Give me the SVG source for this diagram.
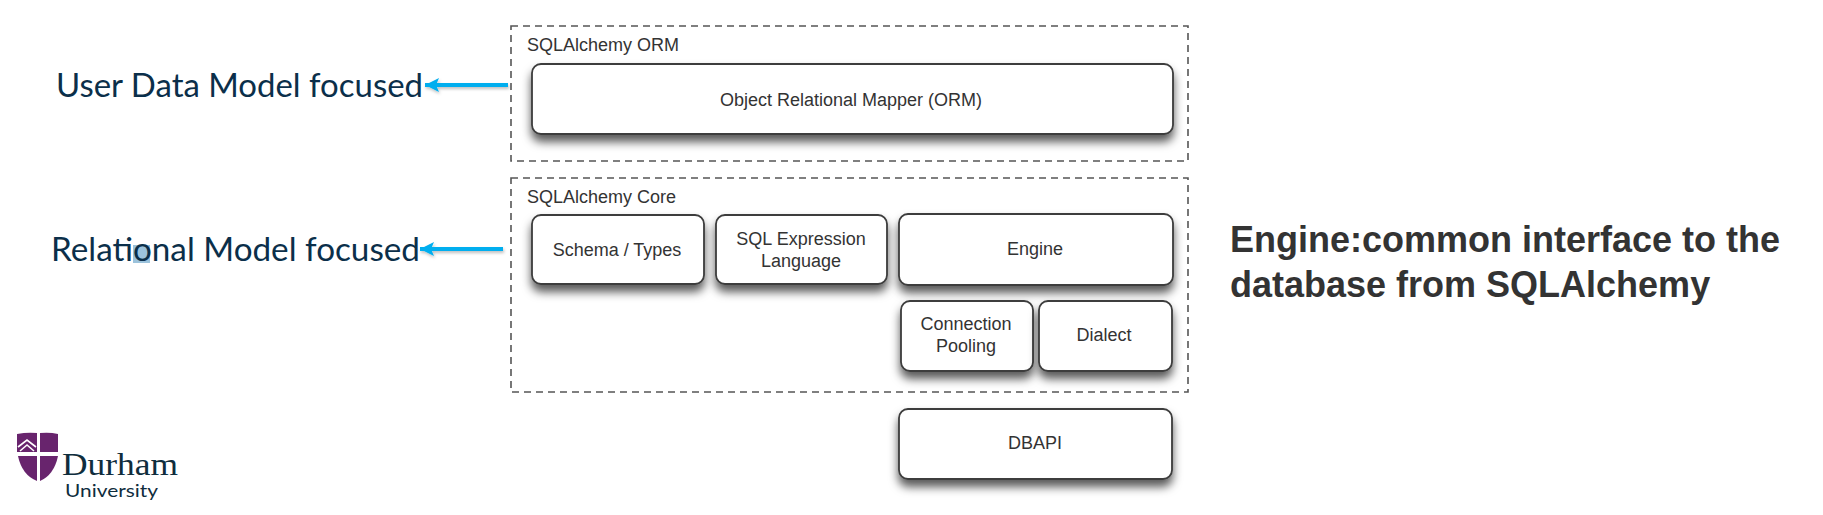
<svg xmlns="http://www.w3.org/2000/svg" width="1823" height="515" viewBox="0 0 1823 515">
<style>
.dash{fill:none;stroke:#555;stroke-width:1.6;stroke-dasharray:7 5}
.box{fill:#fff;stroke:#3c3c3c;stroke-width:1.8;filter:url(#sh)}
.t{font-family:"Liberation Sans",Arial,sans-serif;font-size:18px;fill:#333;text-anchor:middle}
.h{font-family:"Liberation Sans",Arial,sans-serif;font-size:18px;fill:#333}
.l{font-family:Lato,"Noto Sans",sans-serif;font-size:33px;fill:#0b2f4a}
.b{font-family:"Liberation Sans",Arial,sans-serif;font-size:36px;font-weight:bold;fill:#333}
.arrow{fill:none;stroke:#00aeef;stroke-width:4;marker-end:url(#a);filter:url(#ash)}
</style>
<defs>
<filter id="sh" x="-10%" y="-20%" width="120%" height="160%"><feDropShadow dx="0" dy="7" stdDeviation="5" flood-color="#000" flood-opacity=".65"/></filter>
<filter id="ash" filterUnits="userSpaceOnUse" x="400" y="60" width="130" height="210"><feDropShadow dx="1" dy="2" stdDeviation="1.5" flood-color="#000" flood-opacity=".25"/></filter>
<marker id="a" markerUnits="userSpaceOnUse" markerWidth="16" markerHeight="16" refX="14" refY="7" orient="auto"><path d="M0 0L14 7L0 14L3 7Z" fill="#00aeef"/></marker>
</defs>
<rect x="133" y="245" width="17" height="18" fill="#9cc3dc"/>
<g id="labels">
<text class="l" x="56" y="97" textLength="367" lengthAdjust="spacingAndGlyphs">User Data Model focused</text>
<text class="l" x="51" y="261" textLength="369" lengthAdjust="spacingAndGlyphs">Relational Model focused</text>
</g>
<g id="connectors">
<line class="arrow" x1="508" y1="85" x2="425" y2="85"/>
<line class="arrow" x1="503" y1="249" x2="420" y2="249"/>
</g>
<g id="orm-group"><rect class="dash" x="511" y="26" width="677" height="135"/><text class="h" x="527" y="51">SQLAlchemy ORM</text></g>
<g id="core-group"><rect class="dash" x="511" y="178" width="677" height="214"/><text class="h" x="527" y="203">SQLAlchemy Core</text></g>
<g id="orm"><rect class="box" x="532" y="64" width="641" height="70" rx="9"/><text class="t" x="851" y="106">Object Relational Mapper (ORM)</text></g>
<g id="schema"><rect class="box" x="532" y="215" width="172" height="69" rx="9"/><text class="t" x="617" y="256">Schema / Types</text></g>
<g id="sql"><rect class="box" x="716" y="215" width="171" height="69" rx="9"/><text class="t" x="801" y="245">SQL Expression</text><text class="t" x="801" y="267">Language</text></g>
<g id="engine"><rect class="box" x="899" y="214" width="274" height="71" rx="9"/><text class="t" x="1035" y="255">Engine</text></g>
<g id="pool"><rect class="box" x="901" y="301" width="132" height="70" rx="9"/><text class="t" x="966" y="330">Connection</text><text class="t" x="966" y="352">Pooling</text></g>
<g id="dialect"><rect class="box" x="1039" y="301" width="133" height="70" rx="9"/><text class="t" x="1104" y="341">Dialect</text></g>
<g id="dbapi"><rect class="box" x="899" y="409" width="273" height="70" rx="9"/><text class="t" x="1035" y="449">DBAPI</text></g>
<g id="note"><text class="b" x="1230" y="252">Engine:common interface to the</text><text class="b" x="1230" y="297">database from SQLAlchemy</text></g>
<g id="logo">
<path d="M17 434Q27 432 37 433V452H17Z" fill="#68246d"/>
<path d="M40 433Q50 432 58 434V452H40Z" fill="#68246d"/>
<path d="M18 456H37V481Q22 475 18 456Z" fill="#68246d"/>
<path d="M40 456H58Q54 475 40 481Z" fill="#68246d"/>
<path d="M18 447L27 440L36 447M20 451L27 445L34 451" fill="none" stroke="#fff" stroke-width="1.6"/>
<text x="62" y="475" font-family="'Liberation Serif',serif" font-size="32" fill="#0f2d3d" textLength="116" lengthAdjust="spacingAndGlyphs">Durham</text>
<text x="65" y="497" font-family="Lato,sans-serif" font-size="18" fill="#0f2d3d" textLength="93" lengthAdjust="spacingAndGlyphs">University</text>
</g>
</svg>
